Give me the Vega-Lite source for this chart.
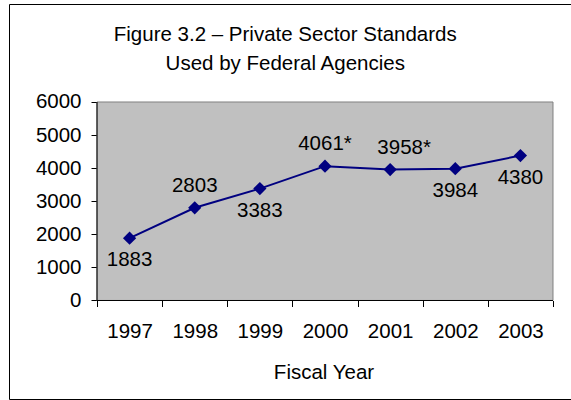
{
  "$schema": "https://vega.github.io/schema/vega-lite/v6.json",
  "width": 562.5,
  "height": 395,
  "autosize": {"type": "none"},
  "padding": {"left": 9, "top": 4, "right": 0, "bottom": 1},
  "background": "white",
  "config": {
    "view": {"stroke": "black", "strokeWidth": 1, "fill": "white"},
    "font": "Liberation Sans",
    "axis": {
      "labelFont": "Liberation Sans",
      "labelFontSize": 20.5,
      "labelColor": "black",
      "titleFont": "Liberation Sans",
      "titleFontSize": 20.5,
      "titleFontWeight": "normal",
      "titleColor": "black",
      "tickColor": "black",
      "domain": false,
      "grid": false
    }
  },
  "title": {
    "text": ["Figure 3.2 – Private Sector Standards", "Used by Federal Agencies"],
    "font": "Liberation Sans",
    "fontSize": 20.5,
    "fontWeight": "normal",
    "color": "black",
    "lineHeight": 29,
    "anchor": "middle",
    "frame": "group",
    "dx": -5,
    "offset": -70
  },
  "data": {
    "values": [
      {"year": 1997, "count": 1883, "label": "1883", "placement": "below"},
      {"year": 1998, "count": 2803, "label": "2803", "placement": "above"},
      {"year": 1999, "count": 3383, "label": "3383", "placement": "below"},
      {"year": 2000, "count": 4061, "label": "4061*", "placement": "above"},
      {"year": 2001, "count": 3958, "label": "3958*", "placement": "above-right"},
      {"year": 2002, "count": 3984, "label": "3984", "placement": "below"},
      {"year": 2003, "count": 4380, "label": "4380", "placement": "below"}
    ]
  },
  "resolve": {"axis": {"x": "independent", "y": "independent"}},
  "layer": [
    {
      "data": {"values": [{}]},
      "mark": {"type": "rect", "fill": "#C0C0C0", "stroke": "#808080", "strokeWidth": 1},
      "encoding": {
        "x": {"datum": 1996.5, "type": "quantitative",
              "scale": {"domain": [1995.149, 2003.784], "nice": false, "zero": false},
              "axis": {"orient": "bottom", "values": [1996.5, 1997.5, 1998.5, 1999.5, 2000.5, 2001.5, 2002.5, 2003.5],
                       "labels": false, "tickSize": 6, "offset": -98.5, "title": null}},
        "x2": {"datum": 2003.5},
        "y": {"datum": 0, "type": "quantitative",
              "scale": {"domain": [-2977.4, 8962.2], "nice": false, "zero": false},
              "axis": {"orient": "left", "values": [0, 1000, 2000, 3000, 4000, 5000, 6000], "tickSize": 6,
                       "labelPadding": 10, "offset": -88, "title": null, "format": "d"}},
        "y2": {"datum": 6000}
      }
    },
    {
      "data": {"values": [{}]},
      "mark": {"type": "rule", "color": "black", "strokeWidth": 1},
      "encoding": {
        "x": {"datum": 1996.5, "type": "quantitative",
              "scale": {"domain": [1995.149, 2003.784], "nice": false, "zero": false}, "axis": null},
        "y": {"datum": 0, "type": "quantitative",
              "scale": {"domain": [-2977.4, 8962.2], "nice": false, "zero": false}, "axis": null},
        "y2": {"datum": 6000}
      }
    },
    {
      "data": {"values": [{}]},
      "mark": {"type": "rule", "color": "black", "strokeWidth": 1},
      "encoding": {
        "x": {"datum": 1996.5, "type": "quantitative",
              "scale": {"domain": [1995.149, 2003.784], "nice": false, "zero": false}, "axis": null},
        "x2": {"datum": 2003.5},
        "y": {"datum": 0, "type": "quantitative",
              "scale": {"domain": [-2977.4, 8962.2], "nice": false, "zero": false}, "axis": null}
      }
    },
    {
      "mark": {"type": "line", "color": "#000080", "strokeWidth": 2,
               "point": {"shape": "diamond", "size": 175, "filled": true, "color": "#000080", "opacity": 1}},
      "encoding": {
        "x": {"field": "year", "type": "quantitative",
              "scale": {"domain": [1995.149, 2003.784], "nice": false, "zero": false},
              "axis": {"orient": "bottom", "values": [1997, 1998, 1999, 2000, 2001, 2002, 2003], "format": "d",
                       "ticks": false, "tickSize": 0, "labelPadding": 21, "offset": -98.5,
                       "title": "Fiscal Year", "titlePadding": 20, "titleX": 314.5, "titleAlign": "center"}},
        "y": {"field": "count", "type": "quantitative",
              "scale": {"domain": [-2977.4, 8962.2], "nice": false, "zero": false}, "axis": null}
      }
    },
    {
      "transform": [{"filter": "datum.placement == 'above'"}],
      "mark": {"type": "text", "font": "Liberation Sans", "fontSize": 20.5, "color": "black",
               "baseline": "middle", "align": "center", "dy": -22},
      "encoding": {
        "x": {"field": "year", "type": "quantitative",
              "scale": {"domain": [1995.149, 2003.784], "nice": false, "zero": false}, "axis": null},
        "y": {"field": "count", "type": "quantitative",
              "scale": {"domain": [-2977.4, 8962.2], "nice": false, "zero": false}, "axis": null},
        "text": {"field": "label"}
      }
    },
    {
      "transform": [{"filter": "datum.placement == 'above-right'"}],
      "mark": {"type": "text", "font": "Liberation Sans", "fontSize": 20.5, "color": "black",
               "baseline": "middle", "align": "center", "dy": -22, "dx": 14},
      "encoding": {
        "x": {"field": "year", "type": "quantitative",
              "scale": {"domain": [1995.149, 2003.784], "nice": false, "zero": false}, "axis": null},
        "y": {"field": "count", "type": "quantitative",
              "scale": {"domain": [-2977.4, 8962.2], "nice": false, "zero": false}, "axis": null},
        "text": {"field": "label"}
      }
    },
    {
      "transform": [{"filter": "datum.placement == 'below'"}],
      "mark": {"type": "text", "font": "Liberation Sans", "fontSize": 20.5, "color": "black",
               "baseline": "middle", "align": "center", "dy": 22},
      "encoding": {
        "x": {"field": "year", "type": "quantitative",
              "scale": {"domain": [1995.149, 2003.784], "nice": false, "zero": false}, "axis": null},
        "y": {"field": "count", "type": "quantitative",
              "scale": {"domain": [-2977.4, 8962.2], "nice": false, "zero": false}, "axis": null},
        "text": {"field": "label"}
      }
    }
  ]
}
